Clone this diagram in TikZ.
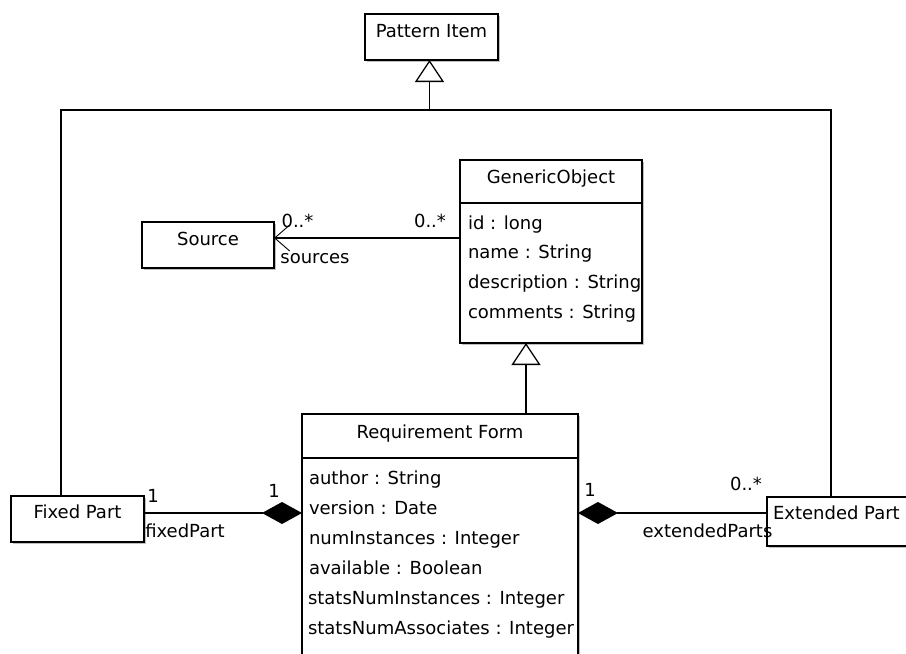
\documentclass[tikz,border=0pt]{standalone}
\usepackage{fontspec}
\setmainfont{DejaVu Sans}
\usetikzlibrary{arrows.meta,shadows}
\begin{document}
\begin{tikzpicture}[x=1pt,y=-1pt,
  every node/.style={font=\fontsize{18}{21}\selectfont, inner sep=0pt, outer sep=0pt},
  umlbox/.style={draw, rectangle, line width=1.3pt, fill=white, anchor=north west,
    drop shadow={shadow xshift=1.5pt, shadow yshift=-1.5pt, opacity=0.25, fill=black}},
  title/.style={anchor=base},
  attr/.style={anchor=base west},
  role/.style={anchor=base},
  conn/.style={line width=1.3pt},
  gen/.style={conn, -{Triangle[open, length=22pt, width=29pt, line width=1.3pt]}},
  comp/.style={conn, -{Diamond[length=40pt, width=22pt]}},
  nav/.style={conn, -{Straight Barb[length=15pt, width=26pt, line width=0.9pt]}}
]
\useasboundingbox (0,0) rectangle (906,654);
\fill[white] (0,0) rectangle (906,654);
\clip (0,0) rectangle (906,654);

% class boxes
\node[umlbox, minimum width=133pt, minimum height=46pt] (pi) at (365,14) {};
\node[umlbox, minimum width=132pt, minimum height=46pt] (src) at (142,222) {};
\node[umlbox, minimum width=182pt, minimum height=183pt] (go) at (460,160) {};
\node[umlbox, minimum width=276pt, minimum height=300pt] (rf) at (302,414) {};
\node[umlbox, minimum width=133pt, minimum height=46pt] (fp) at (11,496) {};
\node[umlbox, minimum width=170pt, minimum height=49pt] (ep) at (767,497) {};

% compartment dividers
\draw[conn] ([yshift=-43pt]go.north west) -- ([yshift=-43pt]go.north east);
\draw[conn] ([yshift=-44pt]rf.north west) -- ([yshift=-44pt]rf.north east);

% class names
\node[title] (piname) at ([yshift=-23.5pt]pi.north) {Pattern Item};
\node[title] (srcname) at ([yshift=-23pt]src.north) {Source};
\node[title] (goname) at ([yshift=-23pt]go.north) {GenericObject};
\node[title] (rfname) at ([yshift=-24pt]rf.north) {Requirement Form};
\node[title] (fpname) at ([yshift=-22pt]fp.north) {Fixed Part};
\node[attr] (epname) at ([xshift=6pt, yshift=-22pt]ep.north west) {Extended Part};

% GenericObject attributes
\node[attr] (goa1) at ([xshift=8pt, yshift=-69.5pt]go.north west) {id : long};
\node[attr] (goa2) at ([xshift=8pt, yshift=-98.5pt]go.north west) {name : String};
\node[attr] (goa3) at ([xshift=8pt, yshift=-128.5pt]go.north west) {description : String};
\node[attr] (goa4) at ([xshift=8pt, yshift=-158.5pt]go.north west) {comments : String};

% Requirement Form attributes
\node[attr] (rfa1) at ([xshift=7pt, yshift=-70pt]rf.north west) {author : String};
\node[attr] (rfa2) at ([xshift=7pt, yshift=-100pt]rf.north west) {version : Date};
\node[attr] (rfa3) at ([xshift=7pt, yshift=-130pt]rf.north west) {numInstances : Integer};
\node[attr] (rfa4) at ([xshift=7pt, yshift=-160pt]rf.north west) {available : Boolean};
\node[attr] (rfa5) at ([xshift=6pt, yshift=-190pt]rf.north west) {statsNumInstances : Integer};
\node[attr] (rfa6) at ([xshift=6pt, yshift=-220pt]rf.north west) {statsNumAssociates : Integer};

% generalization to Pattern Item
\coordinate (hub) at ([xshift=-2pt, yshift=-50pt]pi.south);
\draw[conn] ([xshift=50pt]fp.north west) |- (hub) -| ([xshift=64pt]ep.north west);
\draw[gen] (hub) -- ([xshift=-2pt]pi.south);

% generalization to GenericObject
\draw[gen] ([xshift=224pt]rf.north west) -- ([xshift=66pt]go.south west);

% association GenericObject -> Source
\draw[nav] ([yshift=-78pt]go.north west) -- ([yshift=-16pt]src.north east);
\node[role] (m1) at (297.5,227) {0..*};
\node[role] (m2) at (430,227) {0..*};
\node[role] (r1) at (315,263) {sources};

% compositions
\draw[comp] ([yshift=-17pt]fp.north east) -- ([yshift=-99pt]rf.north west);
\draw[comp] ([yshift=-16pt]ep.north west) -- ([yshift=-99pt]rf.north east);
\node[role] (m3) at (153,502) {1};
\node[role] (m4) at (274,497) {1};
\node[role] (r2) at (185,537) {fixedPart};
\node[role] (m5) at (590,496) {1};
\node[role] (m6) at (746,490) {0..*};
\node[role] (r3) at (707.5,537) {extendedParts};
\end{tikzpicture}
\end{document}
